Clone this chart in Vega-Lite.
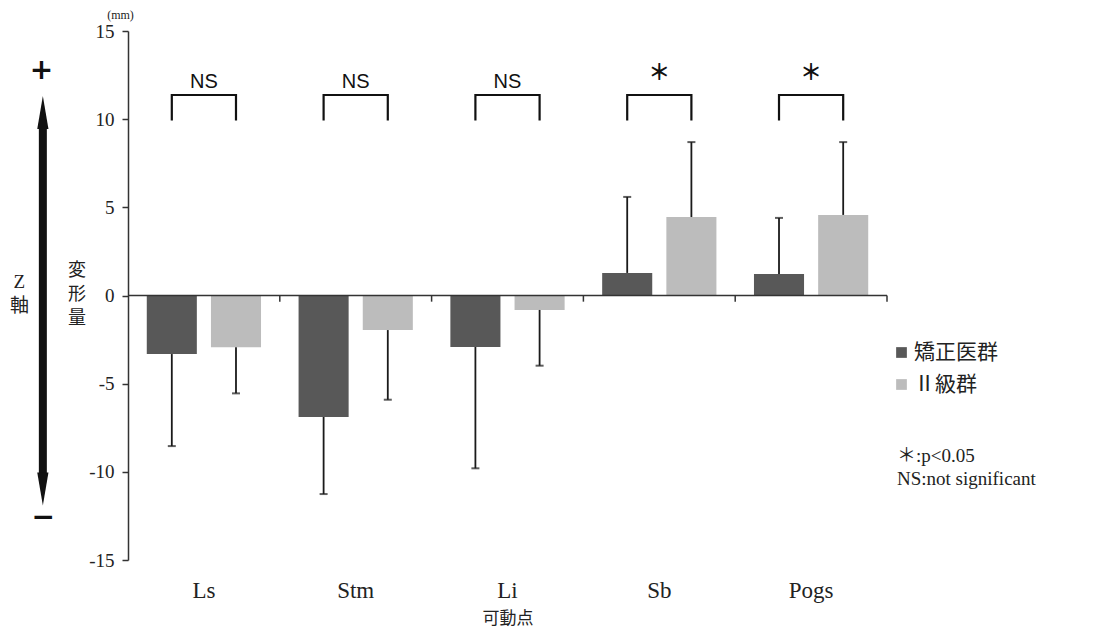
{
  "$schema": "https://vega.github.io/schema/vega-lite/v6.json",
  "padding": {"left": 5, "top": 8, "right": 5, "bottom": 5},
  "bounds": "flush",
  "spacing": 8,
  "config": {"view": {"stroke": null}, "font": "Liberation Serif"},
  "datasets": {
    "bars": [
      {"point": "Ls", "group": "矯正医群", "mean": -3.32, "end": -8.54},
      {"point": "Ls", "group": "Ⅱ級群", "mean": -2.94, "end": -5.55},
      {"point": "Stm", "group": "矯正医群", "mean": -6.89, "end": -11.26},
      {"point": "Stm", "group": "Ⅱ級群", "mean": -1.96, "end": -5.91},
      {"point": "Li", "group": "矯正医群", "mean": -2.92, "end": -9.8},
      {"point": "Li", "group": "Ⅱ級群", "mean": -0.82, "end": -3.98},
      {"point": "Sb", "group": "矯正医群", "mean": 1.28, "end": 5.59},
      {"point": "Sb", "group": "Ⅱ級群", "mean": 4.45, "end": 8.7},
      {"point": "Pogs", "group": "矯正医群", "mean": 1.22, "end": 4.4},
      {"point": "Pogs", "group": "Ⅱ級群", "mean": 4.57, "end": 8.7}
    ],
    "brackets": [
      {"point": "Ls", "group": "矯正医群", "ord": 1, "v": 9.92},
      {"point": "Ls", "group": "矯正医群", "ord": 2, "v": 11.37},
      {"point": "Ls", "group": "Ⅱ級群", "ord": 3, "v": 11.37},
      {"point": "Ls", "group": "Ⅱ級群", "ord": 4, "v": 9.92},
      {"point": "Stm", "group": "矯正医群", "ord": 1, "v": 9.92},
      {"point": "Stm", "group": "矯正医群", "ord": 2, "v": 11.37},
      {"point": "Stm", "group": "Ⅱ級群", "ord": 3, "v": 11.37},
      {"point": "Stm", "group": "Ⅱ級群", "ord": 4, "v": 9.92},
      {"point": "Li", "group": "矯正医群", "ord": 1, "v": 9.92},
      {"point": "Li", "group": "矯正医群", "ord": 2, "v": 11.37},
      {"point": "Li", "group": "Ⅱ級群", "ord": 3, "v": 11.37},
      {"point": "Li", "group": "Ⅱ級群", "ord": 4, "v": 9.92},
      {"point": "Sb", "group": "矯正医群", "ord": 1, "v": 9.92},
      {"point": "Sb", "group": "矯正医群", "ord": 2, "v": 11.37},
      {"point": "Sb", "group": "Ⅱ級群", "ord": 3, "v": 11.37},
      {"point": "Sb", "group": "Ⅱ級群", "ord": 4, "v": 9.92},
      {"point": "Pogs", "group": "矯正医群", "ord": 1, "v": 9.92},
      {"point": "Pogs", "group": "矯正医群", "ord": 2, "v": 11.37},
      {"point": "Pogs", "group": "Ⅱ級群", "ord": 3, "v": 11.37},
      {"point": "Pogs", "group": "Ⅱ級群", "ord": 4, "v": 9.92}
    ],
    "sig": [
      {"point": "Ls", "label": "NS"},
      {"point": "Stm", "label": "NS"},
      {"point": "Li", "label": "NS"},
      {"point": "Sb", "label": "＊"},
      {"point": "Pogs", "label": "＊"}
    ]
  },
  "hconcat": [
    {
      "width": 115,
      "height": 529,
      "layer": [
        {
          "data": {"values": [{}]},
          "mark": {"type": "rule", "strokeWidth": 8, "color": "#111"},
          "encoding": {
            "x": {"datum": 39.5, "type": "quantitative", "scale": {"domain": [0, 115]}, "axis": null},
            "y": {"datum": 9.6, "type": "quantitative", "scale": {"domain": [-15, 15], "nice": false}, "axis": null},
            "y2": {"datum": -10.2}
          }
        },
        {
          "data": {"values": [{}]},
          "mark": {"type": "point", "shape": "M0,-1L0.34,1L-0.34,1Z", "size": 1089, "filled": true, "opacity": 1, "color": "#111"},
          "encoding": {
            "x": {"datum": 39.5, "type": "quantitative"},
            "y": {"datum": 10.38, "type": "quantitative"}
          }
        },
        {
          "data": {"values": [{}]},
          "mark": {"type": "point", "shape": "M0,1L0.34,-1L-0.34,-1Z", "size": 1089, "filled": true, "opacity": 1, "color": "#111"},
          "encoding": {
            "x": {"datum": 39.5, "type": "quantitative"},
            "y": {"datum": -10.98, "type": "quantitative"}
          }
        },
        {
          "data": {"values": [{}]},
          "mark": {"type": "text", "text": "+", "font": "DejaVu Sans", "fontWeight": "bold", "fontSize": 28, "color": "#111", "baseline": "middle", "align": "center"},
          "encoding": {
            "x": {"datum": 38, "type": "quantitative"},
            "y": {"datum": 12.75, "type": "quantitative"}
          }
        },
        {
          "data": {"values": [{}]},
          "mark": {"type": "text", "text": "−", "font": "DejaVu Sans", "fontWeight": "bold", "fontSize": 28, "color": "#111", "baseline": "middle", "align": "center"},
          "encoding": {
            "x": {"datum": 40, "type": "quantitative"},
            "y": {"datum": -12.6, "type": "quantitative"}
          }
        },
        {
          "data": {"values": [{}]},
          "mark": {"type": "text", "text": ["Z", "軸"], "lineHeight": 24, "font": "Liberation Serif, Noto Sans CJK JP", "fontSize": 19, "color": "#222", "baseline": "middle", "align": "center"},
          "encoding": {
            "x": {"datum": 15, "type": "quantitative"},
            "y": {"datum": 0.77, "type": "quantitative"}
          }
        },
        {
          "data": {"values": [{}]},
          "mark": {"type": "text", "text": ["変", "形", "量"], "lineHeight": 24, "font": "Noto Sans CJK JP", "fontSize": 18, "color": "#222", "baseline": "middle", "align": "center"},
          "encoding": {
            "x": {"datum": 75, "type": "quantitative"},
            "y": {"datum": 1.4, "type": "quantitative"}
          }
        }
      ]
    },
    {
      "width": 759,
      "height": 529,
      "layer": [
        {
          "data": {"name": "bars"},
          "mark": {"type": "bar"},
          "encoding": {
            "x": {
              "field": "point", "type": "nominal", "sort": ["Ls", "Stm", "Li", "Sb", "Pogs"],
              "scale": {"paddingInner": 0, "paddingOuter": 0},
              "axis": {"domain": false, "ticks": false, "labelAngle": 0, "labelFont": "Liberation Serif", "labelFontSize": 23, "labelColor": "#222", "labelPadding": 19, "title": "可動点", "titleFont": "Noto Sans CJK JP", "titleFontSize": 17, "titleFontWeight": "normal", "titleColor": "#222", "titlePadding": 8}
            },
            "xOffset": {"field": "group", "type": "nominal", "sort": ["矯正医群", "Ⅱ級群"], "scale": {"paddingInner": 0.22, "paddingOuter": 0.2925}},
            "y": {
              "field": "mean", "type": "quantitative",
              "scale": {"domain": [-15, 15], "nice": false},
              "axis": {"values": [-15, -10, -5, 0, 5, 10, 15], "grid": false, "domainColor": "#333", "domainWidth": 1.5, "tickColor": "#333", "tickWidth": 1.5, "tickSize": 6, "labelFont": "Liberation Serif", "labelFontSize": 19, "labelColor": "#222", "labelPadding": 8, "labelExpr": "'' + datum.value", "title": "(mm)", "titleFont": "Liberation Serif", "titleFontSize": 12, "titleFontWeight": "normal", "titleColor": "#222", "titleAngle": 0, "titleX": -8, "titleY": -17, "titleAlign": "center", "titleBaseline": "middle"}
            },
            "color": {
              "field": "group", "type": "nominal",
              "scale": {"domain": ["矯正医群", "Ⅱ級群"], "range": ["#585858", "#bcbcbc"]},
              "legend": {"orient": "none", "legendX": 886, "legendY": 311, "title": null, "symbolType": "square", "symbolSize": 115, "symbolStrokeWidth": 0, "labelFont": "Noto Sans CJK JP", "labelFontSize": 21, "labelColor": "#222", "rowPadding": 10, "labelOffset": 2, "padding": 0}
            }
          }
        },
        {
          "data": {"name": "bars"},
          "mark": {"type": "rule", "strokeWidth": 1.8, "color": "#1a1a1a"},
          "encoding": {
            "x": {"field": "point", "type": "nominal", "sort": ["Ls", "Stm", "Li", "Sb", "Pogs"]},
            "xOffset": {"field": "group", "type": "nominal", "sort": ["矯正医群", "Ⅱ級群"]},
            "y": {"field": "mean", "type": "quantitative"},
            "y2": {"field": "end"}
          }
        },
        {
          "data": {"name": "bars"},
          "mark": {"type": "tick", "thickness": 2, "size": 8, "color": "#1a1a1a"},
          "encoding": {
            "x": {"field": "point", "type": "nominal", "sort": ["Ls", "Stm", "Li", "Sb", "Pogs"]},
            "xOffset": {"field": "group", "type": "nominal", "sort": ["矯正医群", "Ⅱ級群"]},
            "y": {"field": "end", "type": "quantitative"}
          }
        },
        {
          "data": {"values": [{}]},
          "mark": {"type": "rule", "strokeWidth": 1.5, "color": "#333"},
          "encoding": {"y": {"datum": 0, "type": "quantitative"}}
        },
        {
          "data": {"name": "sig"},
          "mark": {"type": "rule", "strokeWidth": 1.5, "color": "#333"},
          "encoding": {
            "x": {"field": "point", "type": "nominal", "sort": ["Ls", "Stm", "Li", "Sb", "Pogs"], "bandPosition": 1},
            "y": {"datum": 0, "type": "quantitative"},
            "y2": {"datum": -0.35}
          }
        },
        {
          "data": {"name": "brackets"},
          "mark": {"type": "line", "strokeWidth": 2.2, "color": "#111", "strokeJoin": "miter"},
          "encoding": {
            "x": {"field": "point", "type": "nominal", "sort": ["Ls", "Stm", "Li", "Sb", "Pogs"]},
            "xOffset": {"field": "group", "type": "nominal", "sort": ["矯正医群", "Ⅱ級群"]},
            "y": {"field": "v", "type": "quantitative"},
            "detail": {"field": "point"},
            "order": {"field": "ord"}
          }
        },
        {
          "data": {"name": "sig"},
          "transform": [{"filter": "datum.label === 'NS'"}],
          "mark": {"type": "text", "font": "Liberation Sans", "fontSize": 20, "color": "#111", "baseline": "middle", "align": "center"},
          "encoding": {
            "x": {"field": "point", "type": "nominal", "sort": ["Ls", "Stm", "Li", "Sb", "Pogs"]},
            "y": {"datum": 12.11, "type": "quantitative"},
            "text": {"field": "label"}
          }
        },
        {
          "data": {"name": "sig"},
          "transform": [{"filter": "datum.label !== 'NS'"}],
          "mark": {"type": "text", "font": "Noto Sans CJK JP", "fontSize": 22, "fontWeight": "bold", "color": "#111", "baseline": "middle", "align": "center"},
          "encoding": {
            "x": {"field": "point", "type": "nominal", "sort": ["Ls", "Stm", "Li", "Sb", "Pogs"]},
            "y": {"datum": 12.6, "type": "quantitative"},
            "text": {"field": "label"}
          }
        }
      ]
    },
    {
      "width": 190,
      "height": 529,
      "layer": [
        {
          "data": {"values": [{}]},
          "mark": {"type": "text", "text": ["＊:p<0.05", "NS:not significant"], "lineHeight": 23, "font": "Liberation Serif, Noto Sans CJK JP", "fontSize": 19, "color": "#222", "baseline": "middle", "align": "left"},
          "encoding": {
            "x": {"datum": 2, "type": "quantitative", "scale": {"domain": [0, 190]}, "axis": null},
            "y": {"datum": -9.1, "type": "quantitative", "scale": {"domain": [-15, 15], "nice": false}, "axis": null}
          }
        }
      ]
    }
  ]
}
